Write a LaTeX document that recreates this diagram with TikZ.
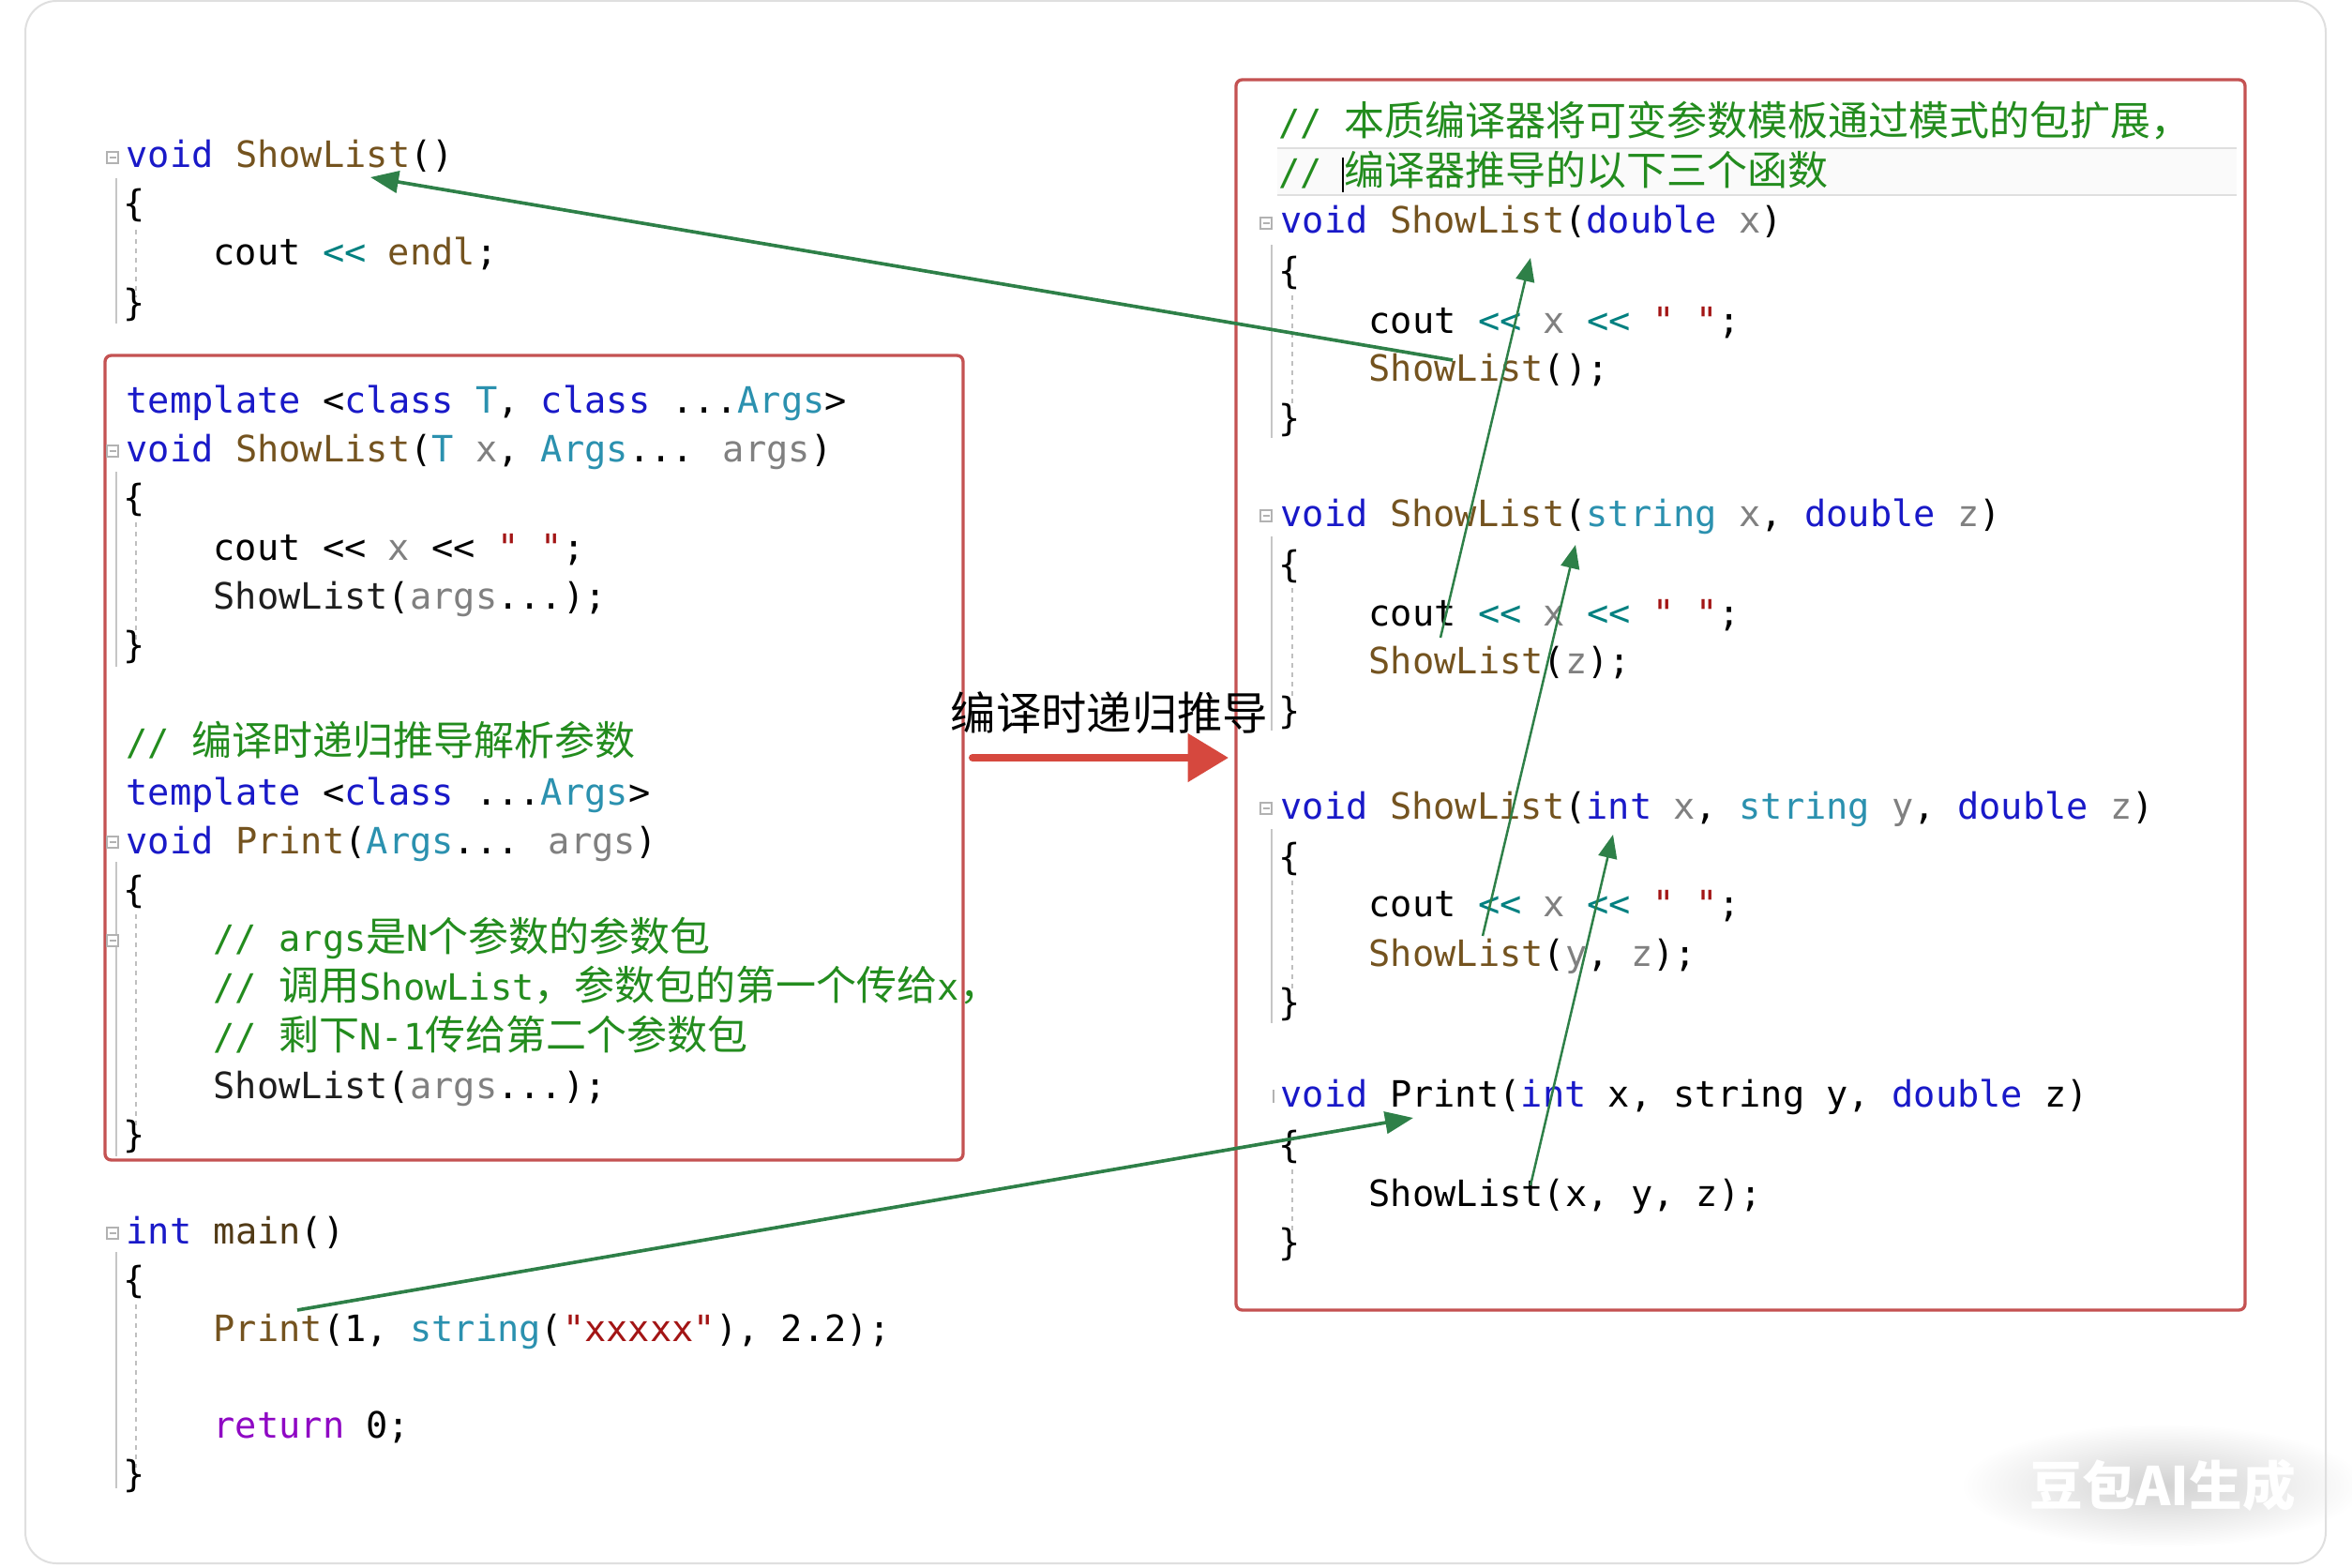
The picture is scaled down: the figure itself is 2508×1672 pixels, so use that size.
\documentclass[tikz,border=0pt]{standalone}
\usepackage{fontspec}
\usetikzlibrary{arrows.meta}
\setmainfont{DejaVu Sans}
\newfontfamily\codefont{DejaVu Sans Mono}
\newfontfamily\cjk{Noto Sans CJK SC}
\definecolor{kwblue}{RGB}{25,25,200}
\definecolor{fnbrown}{RGB}{116,83,31}
\definecolor{tyteal}{RGB}{43,145,175}
\definecolor{pagray}{RGB}{128,128,128}
\definecolor{opteal}{RGB}{0,128,128}
\definecolor{strred}{RGB}{163,21,21}
\definecolor{cmgreen}{RGB}{35,140,30}
\definecolor{retpurple}{RGB}{143,8,196}
\definecolor{boxred}{RGB}{196,82,82}
\definecolor{arrgreen}{RGB}{46,128,72}
\definecolor{arrred}{RGB}{214,72,62}
\definecolor{calldark}{RGB}{30,30,30}
\newcommand\ckw[1]{\textcolor{kwblue}{#1}}
\newcommand\cfn[1]{\textcolor{fnbrown}{#1}}
\newcommand\cty[1]{\textcolor{tyteal}{#1}}
\newcommand\cpa[1]{\textcolor{pagray}{#1}}
\newcommand\cop[1]{\textcolor{opteal}{#1}}
\newcommand\cstr[1]{\textcolor{strred}{#1}}
\newcommand\ccm[1]{\textcolor{cmgreen}{#1}}
\newcommand\cret[1]{\textcolor{retpurple}{#1}}
\newcommand\dq{\symbol{34}}
\newcommand\zh[1]{{\cjk\fontsize{12.9}{15}\selectfont #1}}
\newcommand\foldmark[2]{\draw[gray!60,fill=white,line width=0.4pt,shift={(#1,#2)}] (-6,-6) rectangle (6,6) (-3.5,0) -- (3.5,0);}
\tikzset{
  code/.style={anchor=base west,inner sep=0pt,font=\codefont\fontsize{11.6}{14}\selectfont},
  redbox/.style={draw=boxred,line width=1pt,rounded corners=2pt},
  guide/.style={draw=gray!45,line width=0.5pt},
  dotguide/.style={draw=gray!50,line width=0.5pt,dash pattern=on 1.5pt off 1.5pt},
  greenarrow/.style={draw=arrgreen,line width=0.75pt,-{Triangle[length=7.5pt,width=6pt]}},
  greenarrowb/.style={draw=arrgreen,line width=1.1pt,-{Triangle[length=9pt,width=7pt]}},
}
\begin{document}
\begin{tikzpicture}[x=0.3pt,y=-0.3pt]
\useasboundingbox (0,0) rectangle (2508,1672);
\fill[white] (0,0) rectangle (2508,1672);

% ---------- watermark backdrop ----------
\shade[inner color=black!18,outer color=white] (2306,1584) ellipse [x radius=215, y radius=66];

\draw[gray!25,line width=0.6pt,rounded corners=10pt] (27,1) rectangle (2480,1667);

% ---------- red boxes ----------
\draw[redbox] (112,379) rectangle (1027,1237);
\draw[redbox] (1318,85) rectangle (2394,1397);

% ---------- editor decorations (left) ----------
\draw[guide] (124,190) -- (124,345);
\draw[dotguide] (145,245) -- (145,317);
\draw[guide] (124,503) -- (124,711);
\draw[dotguide] (145,557) -- (145,685);
\draw[guide] (124,919) -- (124,1233);
\draw[dotguide] (145,975) -- (145,1205);
\draw[guide] (124,1335) -- (124,1587);
\draw[dotguide] (145,1391) -- (145,1565);
\foldmark{120}{168}
\foldmark{120}{481}
\foldmark{120}{898}
\foldmark{120}{1003}
\foldmark{120}{1315}

% ---------- editor decorations (right) ----------
\fill[gray!4] (1362,158) rectangle (2385,208);
\draw[gray!25,line width=0.6pt] (1362,158) -- (2385,158) (1362,208) -- (2385,208);
\draw[black,line width=0.5pt] (1432,168) -- (1432,205);
\draw[guide] (1356,261) -- (1356,467);
\draw[dotguide] (1378,315) -- (1378,435);
\draw[guide] (1356,572) -- (1356,779);
\draw[dotguide] (1378,627) -- (1378,747);
\draw[guide] (1356,884) -- (1356,1091);
\draw[dotguide] (1378,939) -- (1378,1059);
\draw[dotguide] (1378,1247) -- (1378,1313);
\foldmark{1350}{238}
\foldmark{1350}{550}
\foldmark{1350}{862}
\draw[gray!60,line width=0.4pt] (1358,1162) -- (1358,1176);

% ---------- top-left ShowList() ----------
\node[code] (s0sig) at (134,179) {\ckw{void} \cfn{ShowList}()};
\node[code] (s0o) at (131,231) {\{};
\node[code] (s0c) at (227,283) {cout \cop{<<} \cfn{endl};};
\node[code] (s0e) at (131,336) {\}};

% ---------- left box: variadic ShowList ----------
\node[code] (t1) at (134,440) {\ckw{template} <\ckw{class} \cty{T}, \ckw{class} ...\cty{Args}>};
\node[code] (s1sig) at (134,492) {\ckw{void} \cfn{ShowList}(\cty{T} \cpa{x}, \cty{Args}... \cpa{args})};
\node[code] (s1o) at (131,544) {\{};
\node[code] (s1c) at (227,597) {cout << \cpa{x} << \cstr{\dq\ \dq};};
\node[code] (s1call) at (227,649) {\textcolor{calldark}{ShowList}(\cpa{args}...);};
\node[code] (s1e) at (131,701) {\}};

% ---------- left box: Print ----------
\node[code] (pc) at (134,805) {\ccm{// \zh{编译时递归推导解析参数}}};
\node[code] (t2) at (134,858) {\ckw{template} <\ckw{class} ...\cty{Args}>};
\node[code] (psig) at (134,910) {\ckw{void} \cfn{Print}(\cty{Args}... \cpa{args})};
\node[code] (po) at (131,962) {\{};
\node[code] (pc1) at (227,1014) {\ccm{// args\zh{是}N\zh{个参数的参数包}}};
\node[code] (pc2) at (227,1066) {\ccm{// \zh{调用}ShowList\zh{，参数包的第一个传给}x\zh{，}}};
\node[code] (pc3) at (227,1119) {\ccm{// \zh{剩下}N-1\zh{传给第二个参数包}}};
\node[code] (pcall) at (227,1171) {\textcolor{calldark}{ShowList}(\cpa{args}...);};
\node[code] (pe) at (131,1223) {\}};

% ---------- main ----------
\node[code] (msig) at (134,1326) {\ckw{int} \textcolor{fnbrown!70!black}{main}()};
\node[code] (mo) at (131,1378) {\{};
\node[code] (mcall) at (227,1430) {\cfn{Print}(1, \cty{string}(\cstr{\dq xxxxx\dq}), 2.2);};
\node[code] (mret) at (227,1533) {\cret{return} 0;};
\node[code] (me) at (131,1585) {\}};

% ---------- right box ----------
\node[code] (rc1) at (1363,145) {\ccm{// \zh{本质编译器将可变参数模板通过模式的包扩展，}}};
\node[code] (rc2) at (1363,198) {\ccm{// \zh{编译器推导的以下三个函数}}};

\node[code] (r1sig) at (1365,249) {\ckw{void} \cfn{ShowList}(\ckw{double} \cpa{x})};
\node[code] (r1o) at (1363,303) {\{};
\node[code] (r1c) at (1459,355) {cout \cop{<<} \cpa{x} \cop{<<} \cstr{\dq\ \dq};};
\node[code] (r1call) at (1459,406) {\cfn{ShowList}();};
\node[code] (r1e) at (1363,459) {\}};

\node[code] (r2sig) at (1365,561) {\ckw{void} \cfn{ShowList}(\cty{string} \cpa{x}, \ckw{double} \cpa{z})};
\node[code] (r2o) at (1363,615) {\{};
\node[code] (r2c) at (1459,667) {cout \cop{<<} \cpa{x} \cop{<<} \cstr{\dq\ \dq};};
\node[code] (r2call) at (1459,718) {\cfn{ShowList}(\cpa{z});};
\node[code] (r2e) at (1363,771) {\}};

\node[code] (r3sig) at (1365,873) {\ckw{void} \cfn{ShowList}(\ckw{int} \cpa{x}, \cty{string} \cpa{y}, \ckw{double} \cpa{z})};
\node[code] (r3o) at (1363,927) {\{};
\node[code] (r3c) at (1459,977) {cout \cop{<<} \cpa{x} \cop{<<} \cstr{\dq\ \dq};};
\node[code] (r3call) at (1459,1030) {\cfn{ShowList}(\cpa{y}, \cpa{z});};
\node[code] (r3e) at (1363,1082) {\}};

\node[code] (r4sig) at (1365,1180) {\ckw{void} Print(\ckw{int} x, string y, \ckw{double} z)};
\node[code] (r4o) at (1363,1234) {\{};
\node[code] (r4call) at (1459,1286) {ShowList(x, y, z);};
\node[code] (r4e) at (1363,1338) {\}};

% ---------- middle label and red arrow ----------
\node[inner sep=0pt,font=\cjk\fontsize{14.5}{16}\selectfont] (lbl) at (1183,760) {编译时递归推导};
\coordinate (ras) at (1037,808);
\coordinate (rae) at (1310,808);
\draw[arrred,line width=2.4pt,line cap=round,-{Triangle[length=13pt,width=15pt]}] (ras) -- (rae);

% ---------- green arrows ----------
\coordinate (a1s) at (1549,384);
\coordinate (a1e) at (395,189);
\coordinate (a2s) at (1536,680);
\coordinate (a2e) at (1632,275);
\coordinate (a3s) at (1581,998);
\coordinate (a3e) at (1680,581);
\coordinate (a4s) at (1632,1264);
\coordinate (a4e) at (1720,890);
\coordinate (a5s) at (317,1397);
\coordinate (a5e) at (1507,1192);
\draw[greenarrowb] (a1s) -- (a1e);
\draw[greenarrow] (a2s) -- (a2e);
\draw[greenarrow] (a3s) -- (a3e);
\draw[greenarrow] (a4s) -- (a4e);
\draw[greenarrowb] (a5s) -- (a5e);

% ---------- watermark ----------
\node[inner sep=0pt,text=white,font=\cjk\bfseries\fontsize{17}{18}\selectfont] (wm) at (2306,1584) {豆包AI生成};
\end{tikzpicture}
\end{document}
